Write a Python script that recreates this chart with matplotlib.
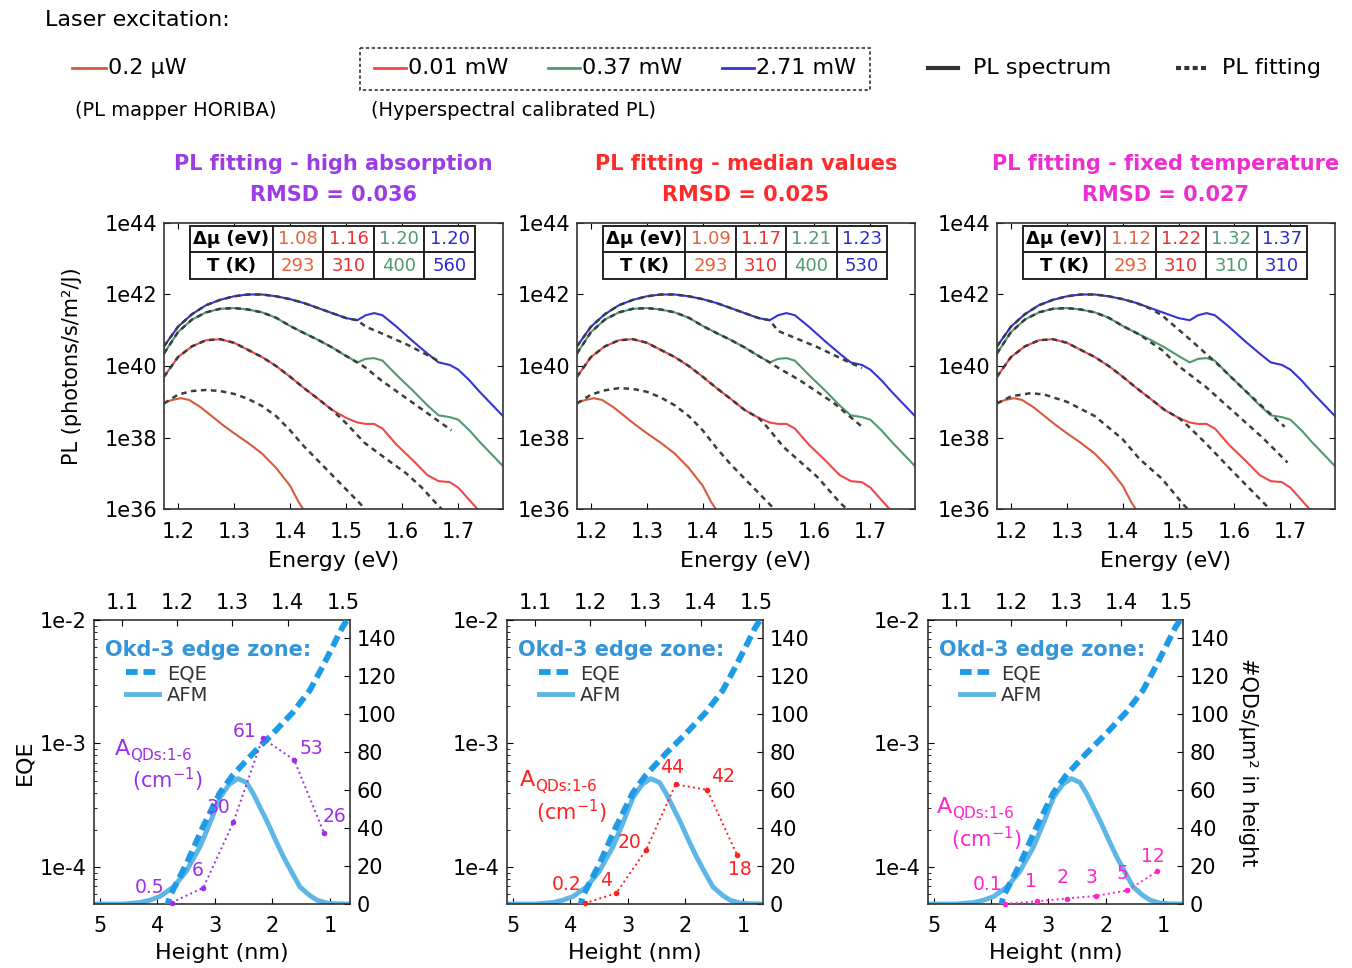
import numpy as np
import matplotlib
matplotlib.use("Agg")
import matplotlib.pyplot as plt
from matplotlib.lines import Line2D
from matplotlib.patches import Rectangle
from matplotlib.ticker import FixedLocator, FuncFormatter, LogLocator, NullFormatter, NullLocator

plt.rcParams["font.family"] = ["DejaVu Sans"]
plt.rcParams["mathtext.default"] = "regular"

W, H, DPI = 1352, 968, 100

# ---------------------------------------------------------------------------
# PL spectra: energy (eV) and log10(PL / photons/s/m2/J)
# ---------------------------------------------------------------------------
E_SPEC = [1.175, 1.20, 1.225, 1.25, 1.275, 1.30, 1.325, 1.35, 1.375, 1.40,
          1.425, 1.45, 1.475, 1.50, 1.52, 1.535, 1.55, 1.565, 1.59, 1.62,
          1.645, 1.665, 1.685, 1.70, 1.72, 1.74, 1.78]
LOG_PL_271MW = [40.55, 41.10, 41.45, 41.70, 41.85, 41.95, 42.00, 42.00, 41.95, 41.87,
                41.76, 41.62, 41.48, 41.34, 41.28, 41.42, 41.48, 41.42, 41.10, 40.68,
                40.35, 40.10, 40.03, 39.90, 39.60, 39.25, 38.60]
LOG_PL_037MW = [40.35, 40.95, 41.30, 41.50, 41.60, 41.62, 41.58, 41.50, 41.35, 41.12,
                40.92, 40.73, 40.52, 40.28, 40.10, 40.20, 40.22, 40.15, 39.75, 39.30,
                38.90, 38.62, 38.57, 38.50, 38.20, 37.85, 37.20]
LOG_PL_001MW = [39.70, 40.25, 40.55, 40.72, 40.75, 40.65, 40.45, 40.25, 40.00, 39.70,
                39.38, 39.08, 38.77, 38.55, 38.42, 38.38, 38.38, 38.25, 37.80, 37.35,
                36.95, 36.78, 36.75, 36.60, 36.25, 35.90, 35.20]
E_UW = [1.175, 1.19, 1.205, 1.22, 1.24, 1.26, 1.28, 1.30, 1.325, 1.35, 1.375, 1.40, 1.415, 1.44]
LOG_PL_UW = [38.98, 39.05, 39.10, 39.05, 38.85, 38.60, 38.35, 38.12, 37.85, 37.55, 37.15,
             36.65, 36.20, 35.60]

# PL fits, one entry per panel (high absorption, median values, fixed temperature)
FIT_UW_E = [[1.175, 1.20, 1.225, 1.25, 1.275, 1.30, 1.325, 1.35, 1.375, 1.40, 1.425, 1.45,
             1.475, 1.50, 1.525, 1.545],
            [1.175, 1.20, 1.225, 1.25, 1.275, 1.30, 1.325, 1.35, 1.375, 1.40, 1.425, 1.45,
             1.475, 1.50, 1.525, 1.545],
            [1.175, 1.20, 1.235, 1.26, 1.30, 1.35, 1.40, 1.43, 1.47, 1.51, 1.53]]
FIT_UW_LOG = [[38.95, 39.20, 39.30, 39.33, 39.30, 39.22, 39.08, 38.88, 38.60, 38.20, 37.75,
               37.35, 36.95, 36.55, 36.15, 35.80],
              [38.95, 39.20, 39.32, 39.38, 39.36, 39.28, 39.12, 38.90, 38.60, 38.20, 37.70,
               37.25, 36.85, 36.45, 36.05, 35.75],
              [38.95, 39.15, 39.24, 39.20, 39.00, 38.60, 37.95, 37.40, 36.85, 36.10, 35.80]]
# for the other powers the fit sits on the spectrum, these are the parts that leave it
FIT_001_E = [[1.50, 1.533, 1.57, 1.607, 1.635, 1.66, 1.68],
             [1.515, 1.545, 1.605, 1.646, 1.665],
             [1.515, 1.548, 1.589, 1.624, 1.665]]
FIT_001_LOG = [[38.40, 37.85, 37.42, 37.00, 36.60, 36.17, 35.85],
               [38.30, 37.73, 36.90, 36.17, 35.90],
               [38.35, 37.85, 37.18, 36.62, 35.97]]
FIT_037_E = [[1.535, 1.5625, 1.62, 1.688],
             [1.535, 1.574, 1.635, 1.686],
             [1.43, 1.47, 1.50, 1.55, 1.60, 1.65, 1.695]]
FIT_037_LOG = [[39.95, 39.60, 38.96, 38.20],
               [39.95, 39.60, 38.96, 38.29],
               [40.88, 40.45, 40.00, 39.40, 38.70, 38.00, 37.30]]
FIT_271_E = [[1.535, 1.5625, 1.61, 1.652, 1.67],
             [1.535, 1.605, 1.653, 1.685],
             [1.45, 1.47, 1.52, 1.57, 1.62, 1.66, 1.69]]
FIT_271_LOG = [[41.10, 40.92, 40.59, 40.25, 40.10],
               [40.98, 40.53, 40.17, 39.94],
               [41.60, 41.42, 40.75, 40.05, 39.30, 38.72, 38.30]]

PANEL_TITLES = ["PL fitting - high absorption", "PL fitting - median values",
                "PL fitting - fixed temperature"]
RMSD = [0.036, 0.025, 0.027]
DMU = [[1.08, 1.16, 1.20, 1.20], [1.09, 1.17, 1.21, 1.23], [1.12, 1.22, 1.32, 1.37]]
T_K = [[293, 310, 400, 560], [293, 310, 400, 530], [293, 310, 310, 310]]

# ---------------------------------------------------------------------------
# EQE / AFM / absorption panels
# ---------------------------------------------------------------------------
EQE_E = [1.180, 1.186, 1.217, 1.246, 1.277, 1.300, 1.337, 1.373, 1.409, 1.440, 1.463,
         1.481, 1.499, 1.512]
EQE = [4.5e-5, 5.75e-5, 1.07e-4, 2.09e-4, 3.98e-4, 5.5e-4, 8.3e-4, 1.2e-3, 1.78e-3,
       2.69e-3, 4.17e-3, 6.0e-3, 8.7e-3, 1.07e-2]
AFM_H = [5.1, 4.6, 4.3, 4.13, 3.95, 3.72, 3.5, 3.26, 3.08, 2.91, 2.75, 2.6, 2.45, 2.33,
         2.2, 2.1, 1.95, 1.81, 1.65, 1.52, 1.35, 1.22, 1.05, 0.9, 0.65]
AFM_N = [0, 0, 0.8, 2, 4, 9, 17, 30, 43, 56, 63, 66, 64, 58, 50, 44, 34, 25, 16, 9, 4.5,
         2, 0.5, 0.1, 0]
A_H = [3.75, 3.2, 2.68, 2.17, 1.62, 1.1]
A_VALUES = [[0.5, 6, 30, 61, 53, 26], [0.2, 4, 20, 44, 42, 18], [0.1, 1, 2, 3, 5, 12]]

# ---------------------------------------------------------------------------
# styles and layout (pixels: left, top, width, height)
# ---------------------------------------------------------------------------
TOP_RECTS = [(164, 223, 339, 286), (577, 223, 338, 286), (997, 223, 338, 286)]
BOTTOM_RECTS = [(94, 620, 256, 284), (507, 620, 256, 284), (928, 620, 255, 284)]

C_UW, C_001, C_037, C_271 = "#d65a3c", "#f04848", "#4f9a6f", "#3434d8"
FIT_COLOR = "#3d3d3d"
TABLE_COLORS = ["#e0643c", "#ee3030", "#4f9a6f", "#2a2ad6"]
TITLE_COLORS = ["#9b3ce6", "#ff2a2a", "#ee2fd0"]
A_COLORS = ["#9b30e6", "#ff2020", "#ff25cc"]
C_EQE, C_AFM, C_OKD = "#1e9be6", "#5db6e6", "#3595d6"
FIT_DASH = (2.2, 1.8)

# label offsets (px) of the absorption values from their points
A_OFFSETS = [[(-22, 15), (-6, 17), (-15, 15), (-18, 7), (17, 11), (10, 17)],
             [(-18, 19), (-10, 13), (-17, 7), (-3, 17), (16, 13), (3, -14)],
             [(-18, 19), (-6, 20), (-4, 21), (-4, 18), (-5, 17), (-4, 15)]]
# (left x of "A", y of "A", centre x of "(cm-1)", y of "(cm-1)") in axes fraction
A_LABEL_POS = [(0.082, 0.545, 0.285, 0.438), (0.051, 0.436, 0.25, 0.325),
               (0.035, 0.341, 0.227, 0.230)]
A_YMAX = 104.5


def px_rect(left, top, width, height):
    """Convert a pixel box (from top-left) into a figure-fraction rect."""
    return [left / W, 1 - (top + height) / H, width / W, height / H]


def fit_curve(e_spec, log_spec, e_tail, log_tail):
    """Fit = spectrum points below the first tail energy, then the tail."""
    e_spec = np.asarray(e_spec)
    keep = e_spec < e_tail[0]
    return (np.r_[e_spec[keep], e_tail],
            np.r_[np.asarray(log_spec)[keep], log_tail])


def sci_label(v, _):
    return f"1e{int(round(np.log10(v)))}"


def draw_pl_panel(fig, i):
    ax = fig.add_axes(px_rect(*TOP_RECTS[i]))
    ax.set_yscale("log")

    spectra = [(E_UW, LOG_PL_UW, C_UW), (E_SPEC, LOG_PL_001MW, C_001),
               (E_SPEC, LOG_PL_037MW, C_037), (E_SPEC, LOG_PL_271MW, C_271)]
    for e, lp, c in spectra:
        ax.plot(e, 10.0 ** np.asarray(lp), color=c, lw=1.5, zorder=2)

    fits = [(np.asarray(FIT_UW_E[i]), np.asarray(FIT_UW_LOG[i])),
            fit_curve(E_SPEC, LOG_PL_001MW, FIT_001_E[i], FIT_001_LOG[i]),
            fit_curve(E_SPEC, LOG_PL_037MW, FIT_037_E[i], FIT_037_LOG[i]),
            fit_curve(E_SPEC, LOG_PL_271MW, FIT_271_E[i], FIT_271_LOG[i])]
    for e, lp in fits:
        ax.plot(e, 10.0 ** lp, color=FIT_COLOR, lw=1.8, dashes=FIT_DASH, zorder=3)

    ax.set_xlim(1.175, 1.78)
    ax.set_ylim(1e36, 1e44)
    ax.set_xticks([1.2, 1.3, 1.4, 1.5, 1.6, 1.7])
    ax.yaxis.set_major_locator(FixedLocator([1e36, 1e38, 1e40, 1e42, 1e44]))
    ax.yaxis.set_minor_locator(NullLocator())
    ax.yaxis.set_major_formatter(FuncFormatter(sci_label))
    ax.tick_params(direction="in", top=True, right=True, labelsize=15, length=4, pad=5)
    ax.tick_params(axis="x", pad=9)
    ax.set_xlabel("Energy (eV)", fontsize=16, labelpad=7)
    for s in ax.spines.values():
        s.set_linewidth(1.2)
        s.set_color("#333333")
    if i == 0:
        ax.set_ylabel("PL (photons/s/m²/J)", fontsize=15, labelpad=16)

    ax.text(0.5, 1.206, PANEL_TITLES[i], transform=ax.transAxes, ha="center",
            va="center", fontsize=15, weight="bold", color=TITLE_COLORS[i])
    ax.text(0.5, 1.098, f"RMSD = {RMSD[i]:.3f}", transform=ax.transAxes, ha="center",
            va="center", fontsize=15, weight="bold", color=TITLE_COLORS[i])

    # parameter table
    cells = [["Δμ (eV)"] + [f"{v:.2f}" for v in DMU[i]],
             ["T (K)"] + [str(t) for t in T_K[i]]]
    tab = ax.table(cellText=cells, cellLoc="center", bbox=[0.077, 0.805, 0.84, 0.185],
                   colWidths=[0.29, 0.1775, 0.1775, 0.1775, 0.1775], zorder=5)
    tab.auto_set_font_size(False)
    tab.set_fontsize(13)
    for (r, c), cell in tab.get_celld().items():
        cell.set_linewidth(1.4)
        cell.set_edgecolor("#222222")
        if c == 0:
            cell.get_text().set_fontweight("bold")
        else:
            cell.get_text().set_color(TABLE_COLORS[c - 1])


def draw_eqe_panel(fig, i):
    rect = px_rect(*BOTTOM_RECTS[i])
    ax_h = fig.add_axes(rect, zorder=1)
    ax_e = fig.add_axes(rect, zorder=2, facecolor="none")
    ax_a = fig.add_axes(rect, zorder=3, facecolor="none")

    # AFM height distribution (bottom / right axes)
    ax_h.plot(AFM_H, AFM_N, color=C_AFM, lw=3.5)
    ax_h.set_xlim(5.1, 0.65)
    ax_h.set_ylim(0, 149.5)
    ax_h.set_xticks([5, 4, 3, 2, 1])
    ax_h.set_yticks(range(0, 141, 20))
    ax_h.yaxis.tick_right()
    ax_h.tick_params(direction="in", labelsize=15, length=4, pad=5)
    ax_h.tick_params(axis="x", pad=9)
    ax_h.set_xlabel("Height (nm)", fontsize=16, labelpad=5)
    for s in ax_h.spines.values():
        s.set_linewidth(1.2)
        s.set_color("#333333")
    if i == 2:
        ax_h.yaxis.set_label_position("right")
        ax_h.set_ylabel("#QDs/µm² in height", rotation=270, va="bottom", fontsize=15,
                        labelpad=6)

    # EQE (top / left axes)
    ax_e.plot(EQE_E, EQE, color=C_EQE, lw=4.2, dashes=(2, 1))
    ax_e.set_yscale("log")
    ax_e.set_xlim(1.049, 1.513)
    ax_e.set_ylim(10 ** -4.3, 1e-2)
    ax_e.xaxis.tick_top()
    ax_e.set_xticks([1.1, 1.2, 1.3, 1.4, 1.5])
    ax_e.yaxis.set_major_locator(FixedLocator([1e-4, 1e-3, 1e-2]))
    ax_e.yaxis.set_major_formatter(FuncFormatter(sci_label))
    ax_e.yaxis.set_minor_locator(LogLocator(base=10, subs=np.arange(2, 10)))
    ax_e.yaxis.set_minor_formatter(NullFormatter())
    ax_e.tick_params(direction="in", labelsize=15, length=4, pad=5)
    ax_e.tick_params(which="minor", direction="in", length=2.5)
    for s in ax_e.spines.values():
        s.set_visible(False)
    if i == 0:
        ax_e.set_ylabel("EQE", fontsize=16, labelpad=4)

    ax_e.text(0.043, 0.894, "Okd-3 edge zone:", transform=ax_e.transAxes, ha="left",
              va="center", fontsize=15, weight="bold", color=C_OKD)
    handles = [Line2D([], [], color=C_EQE, lw=4.2, dashes=(2, 1)),
               Line2D([], [], color=C_AFM, lw=3.5)]
    leg = ax_e.legend(handles, ["EQE", "AFM"], loc="upper left",
                      bbox_to_anchor=(0.125, 0.845), frameon=False, fontsize=14,
                      handlelength=1.7, handletextpad=0.4, labelspacing=0.15,
                      borderpad=0, borderaxespad=0)
    for t in leg.get_texts():
        t.set_color("#333333")

    # absorption of QDs
    col = A_COLORS[i]
    ax_a.set_axis_off()
    ax_a.set_xlim(5.1, 0.65)
    ax_a.set_ylim(0, A_YMAX)
    ax_a.plot(A_H, A_VALUES[i], ls=":", lw=1.4, color=col, marker="o", ms=3, clip_on=False)
    for h, v, (dx, dy) in zip(A_H, A_VALUES[i], A_OFFSETS[i]):
        ax_a.annotate(f"{v:g}", (h, v), xytext=(dx * 72 / DPI, dy * 72 / DPI),
                      textcoords="offset points", ha="center", va="center",
                      fontsize=13.5, color=col)
    xa, ya, xc, yc = A_LABEL_POS[i]
    a_txt = ax_a.text(xa, ya, "A", transform=ax_a.transAxes, ha="left",
                      va="center", fontsize=16, color=col)
    ax_a.annotate("QDs:1-6", xy=(1.0, 0.2), xycoords=a_txt, ha="left", va="center",
                  fontsize=11, color=col)
    ax_a.text(xc, yc, "(cm$^{-1}$)", transform=ax_a.transAxes, ha="center",
              va="center", fontsize=15, color=col)


def draw_header(fig):
    """Legend block at the top of the figure, placed in pixel coordinates."""
    ov = fig.add_axes([0, 0, 1, 1], zorder=10)
    ov.set_xlim(0, W)
    ov.set_ylim(H, 0)
    ov.set_axis_off()
    fs = 16
    ov.text(45, 20, "Laser excitation:", fontsize=fs, va="center", ha="left")

    ov.plot([72, 106], [68, 68], color=C_UW, lw=2)
    ov.text(108, 68, "0.2 µW", fontsize=fs, va="center", ha="left")
    ov.text(75, 110, "(PL mapper HORIBA)", fontsize=14, va="center", ha="left")

    ov.add_patch(Rectangle((360, 48), 510, 42, fill=False, ls=(0, (2, 1.5)), lw=1.2,
                           ec="#333333"))
    for x0, c, lab in [(374, C_001, "0.01 mW"), (548, C_037, "0.37 mW"),
                       (722, C_271, "2.71 mW")]:
        ov.plot([x0, x0 + 32], [68, 68], color=c, lw=2)
        ov.text(x0 + 34, 68, lab, fontsize=fs, va="center", ha="left")
    ov.text(371, 110, "(Hyperspectral calibrated PL)", fontsize=14, va="center", ha="left")

    ov.plot([928, 958], [68, 68], color="#333333", lw=3)
    ov.text(973, 68, "PL spectrum", fontsize=fs, va="center", ha="left")
    ov.plot([1176, 1208], [68, 68], color="#333333", lw=3, dashes=(1.2, 0.8))
    ov.text(1222, 68, "PL fitting", fontsize=fs, va="center", ha="left")


if __name__ == "__main__":
    fig = plt.figure(figsize=(W / DPI, H / DPI), dpi=DPI)
    for k in range(3):
        draw_pl_panel(fig, k)
        draw_eqe_panel(fig, k)
    draw_header(fig)
    fig.savefig("out.png", dpi=DPI)
